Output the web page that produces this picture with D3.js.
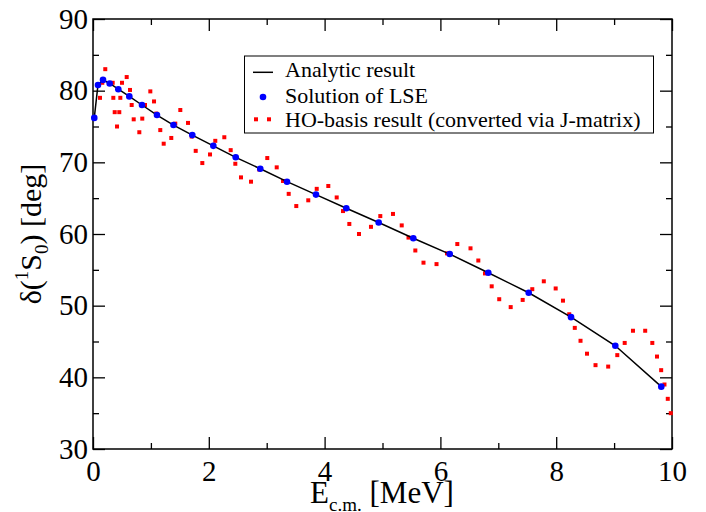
<!DOCTYPE html>
<html lang="en">
    <head>
        <meta charset="utf-8">
        <title>1S0 phase shift</title>
        <script type="text/javascript" src="https://d3js.org/d3.v7.min.js"></script>
        <style>
            body { margin: 0; background: #fff; }
            text { font-family: "Liberation Serif", "DejaVu Serif", serif; fill: #000; }
        </style>
    </head>
    <body>
        <div class="chart"></div>
    </body>
    <script type="text/javascript">
        // solution of LSE (blue points), analytic line goes through the same energies
        const lseE = [0.022, 0.086, 0.173, 0.288, 0.437, 0.627, 0.846, 1.105, 1.390, 1.715,
                      2.078, 2.465, 2.889, 3.351, 3.851, 4.375, 4.934, 5.532, 6.161, 6.827,
                      7.525, 8.256, 9.021, 9.815];
        const lseDelta = [76.2, 80.8, 81.5, 81.0, 80.2, 79.2, 78.0, 76.6, 75.2, 73.8,
                          72.3, 70.7, 69.1, 67.3, 65.5, 63.6, 61.6, 59.4, 57.2, 54.6,
                          51.8, 48.4, 44.4, 38.7];

        // HO-basis result (converted via J-matrix), red dots
        const hoE = [0.121, 0.161, 0.212, 0.340, 0.351, 0.375, 0.415, 0.454, 0.472, 0.501,
                     0.582, 0.639, 0.668, 0.703, 0.800, 0.851, 0.898, 0.990, 1.054, 1.093,
                     1.162, 1.221, 1.352, 1.421, 1.508, 1.641, 1.705, 1.774, 1.888, 2.021,
                     2.112, 2.268, 2.378, 2.458, 2.556, 2.729, 2.872, 3.010, 3.173, 3.282,
                     3.380, 3.511, 3.718, 3.864, 4.064, 4.209, 4.318, 4.427, 4.594, 4.801,
                     4.962, 5.181, 5.332, 5.449, 5.567, 5.708, 5.933, 6.114, 6.292, 6.520,
                     6.655, 6.770, 6.886, 7.016, 7.214, 7.421, 7.587, 7.786, 7.991, 8.117,
                     8.225, 8.321, 8.420, 8.532, 8.679, 8.898, 9.055, 9.183, 9.326, 9.537,
                     9.660, 9.741, 9.813, 9.870, 9.927, 9.979];
        const hoDelta = [79.0, 81.1, 83.0, 81.1, 79.0, 77.0, 75.0, 77.0, 79.0, 81.1,
                         81.9, 80.1, 78.0, 76.0, 74.2, 76.1, 78.0, 79.9, 78.5, 76.8,
                         74.5, 72.6, 73.4, 75.4, 77.3, 75.5, 73.6, 71.6, 69.9, 71.1,
                         73.0, 73.5, 71.7, 69.8, 67.9, 67.3, 69.0, 70.6, 69.3, 67.4,
                         65.6, 63.9, 64.7, 66.3, 66.7, 65.1, 63.2, 61.4, 60.0, 61.0,
                         62.5, 62.8, 61.2, 59.5, 57.7, 56.0, 55.8, 57.3, 58.6, 58.0,
                         56.3, 54.5, 52.7, 50.9, 49.8, 50.8, 52.3, 53.4, 52.4, 50.7,
                         48.8, 46.9, 45.1, 43.3, 41.7, 41.5, 43.1, 44.8, 46.5, 46.5,
                         44.8, 42.9, 41.0, 39.0, 37.0, 35.0];

        const xMajorTicks = [0, 2, 4, 6, 8, 10];
        const xMinorTicks = [1, 3, 5, 7, 9];
        const yMajorTicks = [30, 40, 50, 60, 70, 80, 90];
        const yMinorTicks = [35, 45, 55, 65, 75, 85];
        const legendLabels = ["Analytic result", "Solution of LSE", "HO-basis result (converted via J-matrix)"];

        const margin = {top: 19, right: 34, bottom: 63, left: 93};
        const W = 706, H = 512;
        const width = W - margin.left - margin.right;
        const height = H - margin.top - margin.bottom;

        const svg = d3.select('.chart').append('svg')
            .attr('width', W)
            .attr('height', H)
            .append('g')
            .attr('transform', `translate(${margin.left},${margin.top})`);

        const xScale = d3.scaleLinear().domain([0, 10]).range([0, width]);
        const yScale = d3.scaleLinear().domain([30, 90]).range([height, 0]);

        const lse = lseE.map((e, i) => ({e: e, d: lseDelta[i]}));
        const ho = hoE.map((e, i) => ({e: e, d: hoDelta[i]}));

        // axes: ticks point inward on all four sides
        function styleAxis(g) {
            g.select('.domain').remove();
            g.selectAll('line').attr('stroke', '#000').attr('stroke-width', 1.3);
            g.selectAll('text').style('font-size', '29px').style('font-family', '"Liberation Serif", serif');
        }

        svg.append('g').attr('transform', `translate(0,${height})`)
            .call(d3.axisBottom(xScale).tickValues(xMajorTicks).tickSize(-12).tickPadding(11).tickFormat(d3.format('d')))
            .call(styleAxis);
        svg.append('g').attr('transform', `translate(0,${height})`)
            .call(d3.axisBottom(xScale).tickValues(xMinorTicks).tickSize(-6).tickFormat(''))
            .call(styleAxis);
        svg.append('g')
            .call(d3.axisTop(xScale).tickValues(xMajorTicks).tickSize(-12).tickFormat(''))
            .call(styleAxis);
        svg.append('g')
            .call(d3.axisTop(xScale).tickValues(xMinorTicks).tickSize(-6).tickFormat(''))
            .call(styleAxis);

        svg.append('g')
            .call(d3.axisLeft(yScale).tickValues(yMajorTicks).tickSize(-12).tickPadding(5).tickFormat(d3.format('d')))
            .call(styleAxis);
        svg.append('g')
            .call(d3.axisLeft(yScale).tickValues(yMinorTicks).tickSize(-6).tickFormat(''))
            .call(styleAxis);
        svg.append('g').attr('transform', `translate(${width},0)`)
            .call(d3.axisRight(yScale).tickValues(yMajorTicks).tickSize(-12).tickFormat(''))
            .call(styleAxis);
        svg.append('g').attr('transform', `translate(${width},0)`)
            .call(d3.axisRight(yScale).tickValues(yMinorTicks).tickSize(-6).tickFormat(''))
            .call(styleAxis);

        // frame
        svg.append('rect')
            .attr('x', 0).attr('y', 0)
            .attr('width', width).attr('height', height)
            .attr('fill', 'none')
            .attr('stroke', '#000')
            .attr('stroke-width', 1.5);

        // HO-basis dots
        svg.selectAll('.ho')
            .data(ho)
            .enter()
            .append('rect')
            .attr('class', 'ho')
            .attr('x', d => xScale(d.e) - 2)
            .attr('y', d => yScale(d.d) - 2)
            .attr('width', 4)
            .attr('height', 4)
            .attr('fill', '#ff0000');

        // analytic line
        const line = d3.line().x(d => xScale(d.e)).y(d => yScale(d.d));
        svg.append('path')
            .datum(lse)
            .attr('d', line)
            .attr('fill', 'none')
            .attr('stroke', '#000')
            .attr('stroke-width', 1.5);

        // LSE points
        svg.selectAll('.lse')
            .data(lse)
            .enter()
            .append('circle')
            .attr('class', 'lse')
            .attr('cx', d => xScale(d.e))
            .attr('cy', d => yScale(d.d))
            .attr('r', 3.3)
            .attr('fill', '#0000ff');

        // axis titles
        const root = d3.select('svg');
        const yTitle = root.append('text')
            .attr('transform', 'translate(41,234) rotate(-90)')
            .attr('text-anchor', 'middle')
            .style('font-size', '30px');
        yTitle.append('tspan').text('δ(');
        yTitle.append('tspan').attr('dy', -13).style('font-size', '19px').text('1');
        yTitle.append('tspan').attr('dy', 13).text('S');
        yTitle.append('tspan').attr('dy', 7).style('font-size', '19px').text('0');
        yTitle.append('tspan').attr('dy', -7).text(') [deg]');

        const xTitle = root.append('text')
            .attr('x', 382)
            .attr('y', 503)
            .attr('text-anchor', 'middle')
            .style('font-size', '31px');
        xTitle.append('tspan').text('E');
        xTitle.append('tspan').attr('dy', 8).style('font-size', '19px').text('c.m.');
        xTitle.append('tspan').attr('dy', -8).text(' [MeV]');

        // legend
        const legend = root.append('g');
        legend.append('rect')
            .attr('x', 244.5).attr('y', 56)
            .attr('width', 409).attr('height', 77)
            .attr('fill', '#fff')
            .attr('stroke', '#000')
            .attr('stroke-width', 1);
        legend.append('line')
            .attr('x1', 253).attr('x2', 273)
            .attr('y1', 72.3).attr('y2', 72.3)
            .attr('stroke', '#000').attr('stroke-width', 1.5);
        legend.append('circle')
            .attr('cx', 263).attr('cy', 97).attr('r', 3.3)
            .attr('fill', '#0000ff');
        legend.selectAll('.legdot')
            .data([256, 269])
            .enter()
            .append('rect')
            .attr('x', d => d - 2).attr('y', 117.3)
            .attr('width', 4).attr('height', 4)
            .attr('fill', '#ff0000');
        legend.selectAll('.leglabel')
            .data(legendLabels)
            .enter()
            .append('text')
            .attr('x', 285)
            .attr('y', (d, i) => [77, 102.5, 127][i])
            .style('font-size', '22px')
            .text(d => d);
    </script>
</html>
